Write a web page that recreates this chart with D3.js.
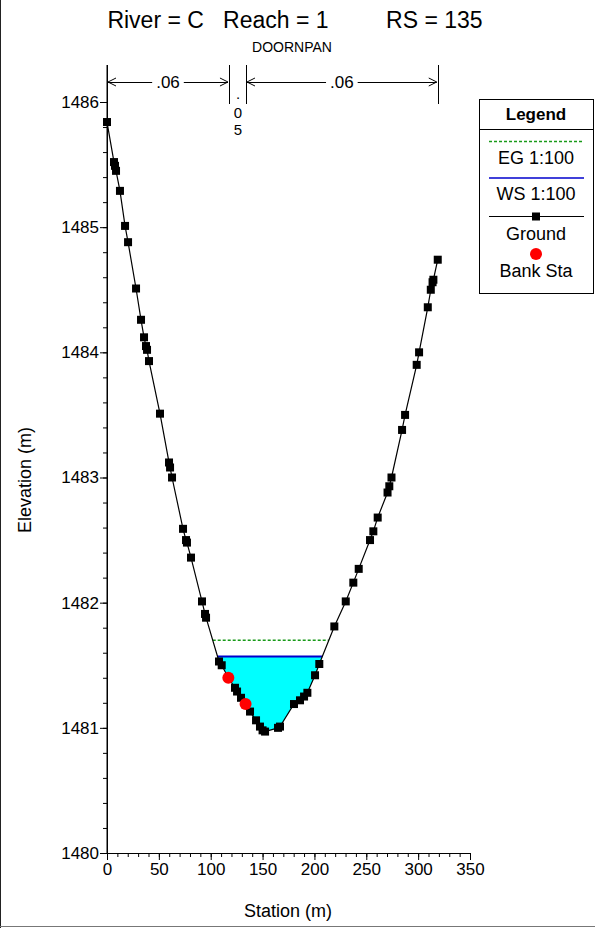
<!DOCTYPE html>
<html><head><meta charset="utf-8">
<script src="https://cdn.jsdelivr.net/npm/d3@7"></script>
<style>
body{margin:0;background:#fff}
svg{display:block;font-family:Arial,"Liberation Sans",sans-serif}
</style>
</head><body>
<svg id="c" width="595" height="928"></svg>
<script>
// ---- data ----
const station = [0,6.75,7.7,8.7,12.5,17.4,20.3,28.0,32.8,35.7,37.6,38.6,40.5,51.1,59.8,60.8,62.7,73.3,76.2,77.1,81.0,91.6,94.5,95.5,
  108.0,110.6,117.0,123.4,125.4,129.2,133.6,137.9,143.7,147.5,150.0,152.4,164.9,166.8,180.3,186.1,190.0,193.2,200.6,204.7,
  219.2,230.2,237.5,242.7,253.6,256.8,261.0,270.5,272.2,274.3,284.5,287.4,298.6,300.9,309.3,312.2,313.9,314.7,318.9];
const elevation = [1485.84,1485.52,1485.49,1485.45,1485.29,1485.01,1484.88,1484.51,1484.26,1484.12,1484.05,1484.02,1483.93,1483.51,1483.12,1483.08,1483.00,1482.59,1482.50,1482.48,1482.36,1482.01,1481.91,1481.88,
  1481.53,1481.50,1481.40,1481.32,1481.29,1481.24,1481.19,1481.13,1481.06,1481.01,1480.98,1480.97,1481.00,1481.01,1481.19,1481.22,1481.25,1481.28,1481.42,1481.51,
  1481.81,1482.01,1482.16,1482.27,1482.50,1482.57,1482.68,1482.88,1482.93,1483.00,1483.38,1483.50,1483.90,1484.00,1484.36,1484.50,1484.56,1484.58,1484.74];
const bankStation = [117.0,133.6];
const bankElevation = [1481.40,1481.19];
const wsElev = 1481.57;
const egElev = 1481.70;
const nValues = [".06",".05",".06"];
const nBreaks = [0,117.6,134.0,318.9];
const xTicks = [0,50,100,150,200,250,300,350];
const yTicks = [1480,1481,1482,1483,1484,1485,1486];
const titleText = "River = C   Reach = 1         RS = 135";
const subTitle = "DOORNPAN";
const legendItems = ["EG 1:100","WS 1:100","Ground","Bank Sta"];

// ---- scales ----
const svg = d3.select("#c");
const x = d3.scaleLinear().domain([0,350]).range([107,470]);
const y = d3.scaleLinear().domain([1480,1486]).range([853,102]);
const FS = 17;
const FL = 18;

// frame
svg.append("line").attr("x1",0.5).attr("x2",0.5).attr("y1",0).attr("y2",928).attr("stroke","#222");
svg.append("line").attr("x1",0).attr("x2",595).attr("y1",926.5).attr("y2",926.5).attr("stroke","#777");

// title
svg.append("text").attr("x",295).attr("y",28).attr("text-anchor","middle").attr("font-size",23)
  .style("white-space","pre").text(titleText);
svg.append("text").attr("x",292).attr("y",52).attr("text-anchor","middle").attr("font-size",14).text(subTitle);

// ground data
const pts = station.map((s,i)=>({s, e:elevation[i]}));
function crossings(level){
  const res=[];
  for(let i=0;i<pts.length-1;i++){
    const a=pts[i], b=pts[i+1];
    if((a.e-level)*(b.e-level)<0){
      const t=(level-a.e)/(b.e-a.e);
      res.push({i, s:a.s+t*(b.s-a.s)});
    }
  }
  return res;
}
const wc = crossings(wsElev);
const wl = wc[0], wr = wc[wc.length-1];
const waterPoly = [{s:wl.s,e:wsElev}].concat(pts.slice(wl.i+1, wr.i+1)).concat([{s:wr.s,e:wsElev}]);
svg.append("path").datum(waterPoly)
  .attr("d", d3.line().x(d=>x(d.s)).y(d=>y(d.e)))
  .attr("fill","#00FFFF").attr("stroke","none");

// EG line
const ec = crossings(egElev);
svg.append("line").attr("x1",x(ec[0].s)).attr("x2",x(ec[ec.length-1].s))
  .attr("y1",y(egElev)).attr("y2",y(egElev))
  .attr("stroke","#189a18").attr("stroke-width",1.5).attr("stroke-dasharray","3,2");
// WS line
svg.append("line").attr("x1",x(wl.s)).attr("x2",x(wr.s))
  .attr("y1",y(wsElev)).attr("y2",y(wsElev))
  .attr("stroke","#0000CC").attr("stroke-width",2);

// ground line
svg.append("path").datum(pts)
  .attr("d", d3.line().x(d=>x(d.s)).y(d=>y(d.e)))
  .attr("fill","none").attr("stroke","#000").attr("stroke-width",1.2);
svg.append("g").selectAll("rect").data(pts).join("rect")
  .attr("x",d=>x(d.s)-4).attr("y",d=>y(d.e)-4).attr("width",8).attr("height",8).attr("fill","#000");
// bank stations
svg.append("g").selectAll("circle").data(bankStation).join("circle")
  .attr("cx",d=>x(d)).attr("cy",(d,i)=>y(bankElevation[i])).attr("r",6).attr("fill","#FF0000");

// axes
const yAxis = svg.append("g").attr("transform","translate(107,0)");
yAxis.call(d3.axisLeft(y).tickValues(d3.range(1480,1486.01,0.2)).tickSize(4).tickFormat(""));
yAxis.call(g=>{g.selectAll(".domain").remove();});
const yMaj = svg.append("g").attr("transform","translate(107,0)")
  .call(d3.axisLeft(y).tickValues(yTicks).tickSize(7).tickPadding(1).tickFormat(d3.format("d")));
yMaj.selectAll("text").attr("font-size",FS).attr("font-family","Arial,'Liberation Sans',sans-serif").attr("fill","#000");
svg.selectAll(".tick line").attr("stroke","#000");
svg.append("line").attr("x1",107).attr("x2",107).attr("y1",65).attr("y2",853).attr("stroke","#000");

const xMin = svg.append("g").attr("transform","translate(0,853)")
  .call(d3.axisBottom(x).tickValues(d3.range(0,351,10)).tickSize(4).tickFormat(""));
const xMaj = svg.append("g").attr("transform","translate(0,853)")
  .call(d3.axisBottom(x).tickValues(xTicks).tickSize(7).tickPadding(3).tickFormat(d3.format("d")));
xMaj.selectAll("text").attr("font-size",FS).attr("font-family","Arial,'Liberation Sans',sans-serif").attr("fill","#000");
svg.selectAll(".domain").attr("stroke","#000");
svg.selectAll(".tick line").attr("stroke","#000");

svg.append("text").attr("x",288).attr("y",917).attr("text-anchor","middle").attr("font-size",FL).text("Station (m)");
svg.append("text").attr("transform","translate(31,480) rotate(-90)").attr("text-anchor","middle").attr("font-size",FL).text("Elevation (m)");

// n-value zones
const ay = 82;
nBreaks.forEach(b=>{
  svg.append("line").attr("x1",Math.round(x(b))+0.5).attr("x2",Math.round(x(b))+0.5)
    .attr("y1",65).attr("y2",104).attr("stroke","#000");
});
function arrowHead(px,dir){
  svg.append("path").attr("d",`M${px+dir*9},${ay-4}L${px+1*dir},${ay}L${px+dir*9},${ay+4}`)
    .attr("fill","none").attr("stroke","#000");
}
const narrowY = [99,118,135];
nValues.forEach((v,i)=>{
  const x0=x(nBreaks[i]), x1=x(nBreaks[i+1]);
  const cx=(x0+x1)/2;
  if(x1-x0>60){
    const t=svg.append("text").attr("x",cx).attr("y",ay+6).attr("text-anchor","middle").attr("font-size",FS).text(v);
    const w=t.node().getComputedTextLength();
    svg.append("line").attr("x1",x0+1).attr("x2",cx-w/2-4).attr("y1",ay+0.5).attr("y2",ay+0.5).attr("stroke","#000");
    svg.append("line").attr("x1",cx+w/2+4).attr("x2",x1-1).attr("y1",ay+0.5).attr("y2",ay+0.5).attr("stroke","#000");
    arrowHead(x0,1); arrowHead(x1,-1);
  } else {
    v.split("").forEach((ch,j)=>{
      svg.append("text").attr("x",cx+0.5).attr("y",narrowY[j]).attr("text-anchor","middle").attr("font-size",15).text(ch);
    });
  }
});

// legend
const L = svg.append("g");
L.append("rect").attr("x",479.5).attr("y",99.5).attr("width",114).attr("height",194).attr("fill","#fff").attr("stroke","#000");
L.append("line").attr("x1",479.5).attr("x2",593.5).attr("y1",129.5).attr("y2",129.5).attr("stroke","#000");
L.append("text").attr("x",536).attr("y",120).attr("text-anchor","middle").attr("font-size",FS).attr("font-weight","bold").text("Legend");
L.append("line").attr("x1",489).attr("x2",584).attr("y1",141.5).attr("y2",141.5).attr("stroke","#189a18").attr("stroke-width",1.5).attr("stroke-dasharray","3,2");
L.append("line").attr("x1",489).attr("x2",584).attr("y1",178).attr("y2",178).attr("stroke","#0000CC").attr("stroke-width",1.5);
L.append("line").attr("x1",489).attr("x2",584).attr("y1",216.5).attr("y2",216.5).attr("stroke","#000");
L.append("rect").attr("x",532).attr("y",212.5).attr("width",8).attr("height",8).attr("fill","#000");
L.append("circle").attr("cx",536).attr("cy",254).attr("r",6).attr("fill","#FF0000");
const ly=[164,200,240,277];
legendItems.forEach((t,i)=>{
  L.append("text").attr("x",536).attr("y",ly[i]).attr("text-anchor","middle").attr("font-size",FL).text(t);
});
</script>
</body></html>
